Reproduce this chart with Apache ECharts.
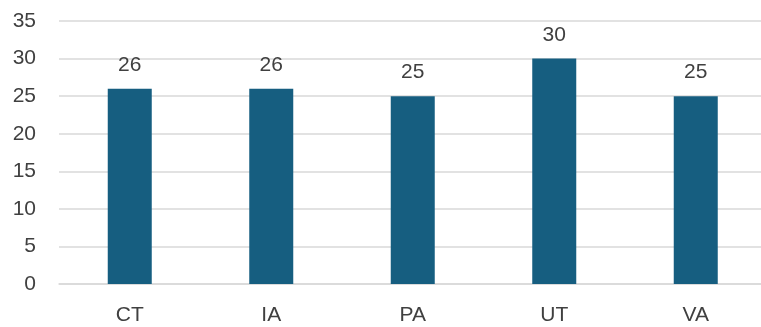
<!DOCTYPE html>
<html>
<head>
<meta charset="utf-8">
<script src="https://cdn.jsdelivr.net/npm/echarts@6/dist/echarts.min.js"></script>
<style>
  html, body { margin: 0; padding: 0; background: #ffffff; }
  #chart { width: 761px; height: 327px; }
</style>
</head>
<body>
<div id="chart"></div>
<script>
// States and their values
const states = ['CT', 'IA', 'PA', 'UT', 'VA'];
const values = [26, 26, 25, 30, 25];
const yTicks = [0, 5, 10, 15, 20, 25, 30, 35];

const chart = echarts.init(document.getElementById('chart'), null, { renderer: 'canvas' });
const textColor = '#404040';
const fontFamily = '"Liberation Sans", Arial, sans-serif';

chart.setOption({
  animation: false,
  grid: {
    left: 59, top: 21, width: 707.5, height: 263,
    containLabel: false, outerBoundsMode: 'none'
  },
  xAxis: {
    type: 'category',
    data: states,
    axisLine: { show: true, lineStyle: { color: '#d9d9d9', width: 1.5 } },
    axisTick: { show: false },
    axisLabel: { color: textColor, fontSize: 21, fontFamily: fontFamily, margin: 21 }
  },
  yAxis: {
    type: 'value',
    min: yTicks[0],
    max: yTicks[yTicks.length - 1],
    interval: 5,
    axisLine: { show: false },
    axisTick: { show: false },
    splitLine: { lineStyle: { color: '#d9d9d9', width: 1.5 } },
    axisLabel: { color: textColor, fontSize: 21, fontFamily: fontFamily, margin: 23 }
  },
  series: [{
    type: 'bar',
    data: values,
    barWidth: 44,
    itemStyle: { color: '#165e80' },
    label: {
      show: true,
      position: 'top',
      distance: 13,
      color: textColor,
      fontSize: 21,
      fontFamily: fontFamily
    }
  }]
});
</script>
</body>
</html>
